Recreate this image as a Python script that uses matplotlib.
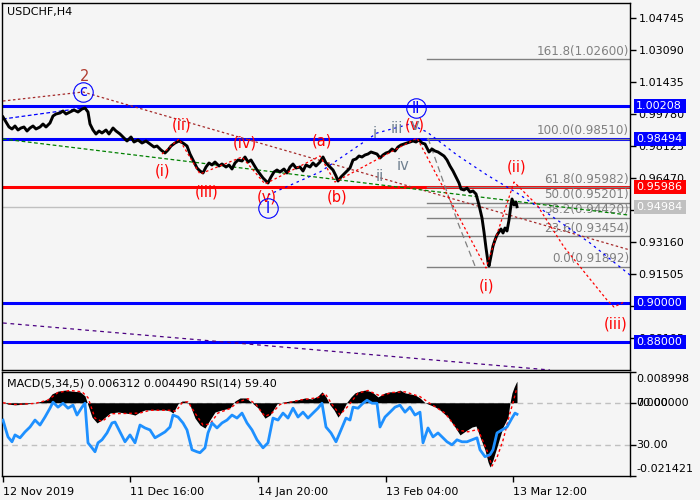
import matplotlib
matplotlib.use("Agg")
import matplotlib.pyplot as plt
from matplotlib.patches import Rectangle
from matplotlib.transforms import blended_transform_factory

plt.rcParams['font.family'] = ['DejaVu Sans']

BG = '#f5f5f5'

# ---------------- price data (H4 closes, bar index) ----------------
bar_idx = [0, 3, 6, 9, 12, 15, 18, 21, 24, 27, 30, 33, 37, 40, 43, 47, 50, 53, 57, 60,
           63, 67, 71, 75, 79, 82, 85, 87, 90, 93, 96, 99, 103, 106, 110, 113, 117, 121, 124, 128,
           131, 135, 139, 143, 147, 151, 154, 158, 162, 165, 168, 172, 176, 180, 184, 187, 191, 194, 197, 200,
           203, 206, 209, 212, 216, 219, 223, 226, 229, 232, 235, 239, 242, 245, 248, 251, 254, 257, 260, 263,
           265, 268, 271, 274, 277, 281, 284, 287, 290, 293, 297, 300, 303, 307, 310, 313, 317, 320, 323, 327,
           330, 333, 335, 338, 341, 344, 347, 350, 353, 356, 359, 362, 365, 368, 371, 374, 377, 380, 383, 386,
           389, 392, 395, 398, 401, 404, 407, 410, 413, 416, 419, 422, 424, 426, 429, 432, 435, 438, 441, 444,
           447, 450, 453, 456, 458, 461, 464, 467, 470, 473, 476, 479, 481, 483, 485, 486, 488, 490, 492, 494,
           496, 498, 500, 502, 504, 506, 508, 509, 511, 513, 514]
close = [0.99625, 0.99367, 0.99108, 0.99005, 0.99160, 0.98953, 0.99056, 0.99108, 0.98901, 0.99056,
         0.99160, 0.99005, 0.99108, 0.99263, 0.99108, 0.99315, 0.99677, 0.99780, 0.99832, 0.99935,
         0.99780, 0.99883, 0.99987, 0.99883, 1.00038, 1.00090, 0.99883, 0.99263, 0.98953, 0.98746,
         0.98901, 0.98798, 0.98953, 0.98746, 0.99056, 0.98901, 0.98746, 0.98539, 0.98384, 0.98591,
         0.98332, 0.98436, 0.98280, 0.98384, 0.98229, 0.98074, 0.98125, 0.97918, 0.97763, 0.97918,
         0.98125, 0.98280, 0.98384, 0.98280, 0.98125, 0.97712, 0.97298, 0.96987, 0.96832, 0.96729,
         0.97039, 0.97246, 0.97143, 0.97298, 0.97091, 0.97194, 0.97039, 0.97143, 0.96936, 0.97246,
         0.97401, 0.97349, 0.97556, 0.97298, 0.97401, 0.97143, 0.96884, 0.96677, 0.96470, 0.96315,
         0.96212, 0.96522, 0.96780, 0.96884, 0.96780, 0.96936, 0.96729, 0.97039, 0.97194, 0.96987,
         0.97039, 0.96832, 0.97143, 0.97039, 0.97246, 0.97091, 0.97298, 0.97556, 0.97246, 0.97039,
         0.96884, 0.96574, 0.96315, 0.96522, 0.96677, 0.96832, 0.96987, 0.97401, 0.97453, 0.97608,
         0.97556, 0.97660, 0.97712, 0.97815, 0.97763, 0.97712, 0.97505, 0.97660, 0.97763, 0.97815,
         0.97970, 0.97867, 0.98074, 0.98177, 0.98229, 0.98280, 0.98332, 0.98384, 0.98332, 0.98436,
         0.98280, 0.98229, 0.98022, 0.97815, 0.97970, 0.97867, 0.97815, 0.97712, 0.97608, 0.97401,
         0.97091, 0.96832, 0.96522, 0.96212, 0.95901, 0.95850, 0.95953, 0.95746, 0.95798, 0.95643,
         0.95074, 0.94401, 0.93677, 0.92850, 0.92125, 0.91919, 0.92436, 0.92953, 0.93263, 0.93522,
         0.93677, 0.93832, 0.93625, 0.93884, 0.93729, 0.94298, 0.95074, 0.95384, 0.95074, 0.95229,
         0.94984]

# ---------------- horizontal levels ----------------
blue_levels = [1.00208, 0.98494, 0.90000, 0.88000]
red_level = 0.95986
last_price = 0.94984

price_ticks = [1.04745, 1.03090, 1.01435, 0.99780, 0.98125, 0.96470,
               0.94815, 0.93160, 0.91505, 0.89850, 0.88195]

# Fibonacci retracement / extension
fib_pct = ['161.8', '100.0', '61.8', '50.0', '38.2', '23.6', '0.0']
fib_val = [1.02600, 0.98510, 0.95982, 0.95201, 0.94420, 0.93454, 0.91892]
fib_start = 424

# ---------------- wave lines ----------------
brown_x = [0, 80, 627]
brown_y = [1.00452, 1.00918, 0.92746]
green_x = [0, 625]
green_y = [0.98487, 0.94557]
blue1_x = [0, 80]
blue1_y = [0.99521, 1.00090]
blue2_x = [265, 317, 374, 407, 424, 454, 484, 514, 547, 587, 627]
blue2_y = [0.95591, 0.96781, 0.98797, 0.99263, 0.98849, 0.97660, 0.96626,
           0.95695, 0.94557, 0.93109, 0.91453]
red_x = [159, 176, 197, 239, 262, 317, 332, 414, 483, 511, 534, 561, 604, 611, 621]
red_y = [0.97711, 0.98487, 0.96677, 0.97557, 0.96160, 0.97608, 0.96263, 0.98539,
         0.91815, 0.96263, 0.95074, 0.92902, 0.90160, 0.89798, 0.90057]
purple_x = [0, 547]
purple_y = [0.88971, 0.86540]
arc_x = [425, 439, 455, 472]
arc_y = [0.98539, 0.96470, 0.94143, 0.91919]

# wave labels: (text, bar, price, colour)
wave_labels = [
    ('2', 82, 1.01694, '#b03a2e'),
    ('(ii)', 179, 0.99211, 'red'),
    ('(i)', 160, 0.96832, 'red'),
    ('(iii)', 204, 0.95746, 'red'),
    ('(iv)', 242, 0.98280, 'red'),
    ('(v)', 264, 0.95487, 'red'),
    ('(a)', 319, 0.98384, 'red'),
    ('(b)', 334, 0.95487, 'red'),
    ('i', 372, 0.98797, '#708090'),
    ('ii', 377, 0.96573, '#708090'),
    ('iii', 394, 0.99056, '#708090'),
    ('iv', 400, 0.97142, '#708090'),
    ('(v)', 412, 0.99211, 'red'),
    ('v', 412, 0.99211, '#708090'),
    ('(ii)', 514, 0.97039, 'red'),
    ('(i)', 484, 0.90884, 'red'),
    ('(iii)', 613, 0.88919, 'red'),
]
circle_labels = [('c', 80, 1.00918), ('I', 265, 0.94918), ('II', 413, 1.00090)]

# ---------------- indicator data ----------------
macd_idx = [0, 5, 12, 22, 32, 39, 45, 49, 55, 62, 69, 77, 82, 85, 89, 94, 99, 107, 115, 122,
            127, 132, 137, 142, 152, 162, 167, 170, 175, 179, 183, 187, 192, 197, 202, 207, 212, 219, 227, 232,
            237, 243, 249, 255, 262, 267, 274, 280, 287, 294, 302, 309, 315, 319, 323, 327, 331, 335, 340, 344,
            348, 352, 357, 362, 369, 375, 382, 387, 392, 397, 402, 407, 412, 417, 422, 427, 432, 437, 445, 452,
            457, 464, 469, 473, 477, 482, 485, 487, 490, 494, 497, 500, 505, 507, 509, 511, 513, 514]
macd = [0.0002, -0.0004, -0.0006, -0.0004, 0.0000, 0.0005, 0.0011, 0.0026, 0.0034, 0.0037,
        0.0034, 0.0032, 0.0020, -0.0007, -0.0042, -0.0059, -0.0050, -0.0030, -0.0027, -0.0030,
        -0.0032, -0.0036, -0.0027, -0.0021, -0.0021, -0.0021, -0.0024, -0.0030, -0.0003, 0.0005,
        0.0005, -0.0007, -0.0045, -0.0065, -0.0074, -0.0050, -0.0027, -0.0021, -0.0015, 0.0005,
        0.0014, 0.0014, 0.0000, -0.0015, -0.0045, -0.0036, -0.0003, 0.0002, 0.0005, 0.0008,
        0.0014, 0.0011, 0.0020, 0.0032, 0.0017, -0.0006, -0.0021, -0.0042, -0.0021, 0.0002,
        0.0017, 0.0029, 0.0034, 0.0037, 0.0032, 0.0017, 0.0029, 0.0032, 0.0032, 0.0037,
        0.0029, 0.0026, 0.0023, 0.0014, 0.0000, -0.0006, -0.0012, -0.0021, -0.0042, -0.0071,
        -0.0094, -0.0080, -0.0071, -0.0068, -0.0100, -0.0138, -0.0173, -0.0188, -0.0167, -0.0129,
        -0.0100, -0.0071, -0.0042, 0.0000, 0.0029, 0.0045, 0.0058, 0.0063]
signal_idx = [0, 12, 32, 45, 55, 67, 79, 85, 92, 99, 109, 127, 137, 147, 167, 173, 179, 185, 192, 200,
              207, 215, 227, 235, 245, 253, 262, 269, 277, 297, 315, 322, 329, 337, 345, 355, 365, 377, 389, 402,
              417, 427, 442, 455, 465, 475, 484, 489, 494, 500, 507, 510, 514]
signal = [0.0000, -0.0005, -0.0002, 0.0008, 0.0030, 0.0036, 0.0032, 0.0015, -0.0045, -0.0055,
          -0.0032, -0.0031, -0.0030, -0.0022, -0.0022, -0.0025, 0.0000, 0.0003, -0.0030, -0.0065,
          -0.0062, -0.0030, -0.0017, 0.0002, 0.0012, -0.0005, -0.0040, -0.0030, -0.0005, 0.0008,
          0.0015, 0.0028, -0.0005, -0.0035, -0.0010, 0.0028, 0.0036, 0.0020, 0.0030, 0.0032,
          0.0018, -0.0002, -0.0030, -0.0080, -0.0085, -0.0078, -0.0140, -0.0185, -0.0160, -0.0110,
          -0.0030, 0.0000, 0.0045]

rsi_idx = [0, 2, 5, 9, 12, 17, 22, 27, 32, 37, 42, 47, 50, 55, 60, 65, 70, 74, 79, 82,
           85, 89, 92, 95, 99, 104, 109, 112, 117, 122, 127, 132, 137, 142, 147, 152, 157, 162, 167, 170,
           175, 180, 184, 189, 194, 197, 202, 205, 209, 214, 219, 224, 229, 234, 239, 244, 249, 254, 260, 265,
           270, 275, 280, 285, 290, 295, 300, 305, 310, 315, 319, 323, 328, 333, 338, 343, 347, 350, 355, 360,
           364, 369, 374, 377, 382, 387, 392, 397, 402, 407, 412, 417, 420, 425, 430, 435, 440, 444, 449, 454,
           459, 464, 469, 474, 477, 482, 487, 490, 494, 499, 504, 509, 512, 514]
rsi = [53.8, 47.1, 37.6, 32.9, 39.5, 36.7, 42.4, 47.1, 53.8, 49.0,
       56.7, 65.2, 71.0, 66.2, 70.0, 65.2, 68.1, 58.6, 66.2, 70.0,
       31.9, 27.1, 23.3, 31.9, 34.8, 41.4, 51.0, 51.9, 42.4, 32.9,
       39.5, 31.9, 49.0, 46.2, 44.3, 36.7, 39.5, 42.4, 47.1, 58.6,
       56.7, 51.0, 44.3, 25.2, 23.3, 22.4, 27.1, 41.4, 51.0, 46.2,
       51.0, 53.8, 58.6, 55.7, 60.5, 51.0, 44.3, 34.8, 27.1, 31.9,
       55.7, 53.8, 60.5, 55.7, 65.2, 56.7, 61.4, 55.7, 60.5, 65.2,
       70.0, 47.1, 41.4, 32.9, 44.3, 55.7, 53.8, 66.2, 65.2, 70.0,
       72.9, 70.0, 70.0, 47.1, 56.7, 61.4, 66.2, 68.1, 61.4, 66.2,
       58.6, 61.4, 31.9, 46.2, 37.6, 41.4, 36.7, 32.9, 30.0, 34.8,
       32.9, 32.9, 34.8, 36.7, 25.2, 18.6, 20.5, 25.2, 41.4, 44.3,
       47.1, 55.7, 60.5, 59.4]

macd_top, macd_bottom = 0.008998, -0.021421
date_ticks = [0, 127, 255, 383, 510]
date_labels = ['12 Nov 2019', '11 Dec 16:00', '14 Jan 20:00', '13 Feb 04:00', '13 Mar 12:00']

# ---------------- figure ----------------
fig = plt.figure(figsize=(7, 5), dpi=100, facecolor=BG)
ax = fig.add_axes([2 / 700, 130 / 500, 628 / 700, 367 / 500], facecolor=BG)
ax.set_xlim(-1, 627)
ax.set_ylim(0.86540, 1.05521)

for lv in blue_levels:
    ax.axhline(lv, color='#0000ff', lw=2.2, zorder=2)
ax.axhline(red_level, color='#ff0000', lw=2.2, zorder=2)
ax.axhline(last_price, color='#c0c0c0', lw=1, zorder=2)

for pct, val in zip(fib_pct, fib_val):
    ax.plot([fib_start, 627], [val, val], color='#808080', lw=1, zorder=2)
    ax.text(626, val + 0.0006, f'{pct}({val:.5f})', color='#808080', fontsize=8.6,
            ha='right', va='bottom', zorder=3)
ax.plot(arc_x, arc_y, color='#808080', lw=0.9, ls=(0, (5, 3)), zorder=2)

ax.plot(brown_x, brown_y, color='#a52a2a', lw=0.9, ls=(0, (2, 2)), zorder=3)
ax.plot(green_x, green_y, color='#008000', lw=0.9, ls=(0, (3, 2)), zorder=3)
ax.plot(blue1_x, blue1_y, color='#0000ff', lw=0.9, ls=(0, (3, 2)), zorder=3)
ax.plot(blue2_x, blue2_y, color='#0000ff', lw=0.9, ls=(0, (2, 3)), zorder=3)
ax.plot(purple_x, purple_y, color='#4b0082', lw=0.9, ls=(0, (3, 3)), zorder=3)

ax.plot(bar_idx, close, color='black', lw=2.1, zorder=4)
ax.plot(red_x, red_y, color='#ff0000', lw=0.9, ls=(0, (2, 2)), zorder=5)

for txt, bx, py, col in wave_labels:
    ax.text(bx, py, txt, color=col, fontsize=10.5, ha='center', va='center', zorder=6)
for txt, bx, py in circle_labels:
    ax.plot(bx, py, 'o', ms=14, mfc='none', mec='#0000ff', mew=0.8, zorder=6)
    ax.text(bx, py, txt, color='#0000ff', fontsize=10.5, ha='center', va='center', zorder=6)

ax.text(4, 1.05521 - 0.0045, 'USDCHF,H4', fontsize=8, ha='left', va='center', color='black')

ax.yaxis.tick_right()
ax.set_yticks(price_ticks)
ax.set_yticklabels([f'{t:.5f}' for t in price_ticks])
ax.tick_params(axis='y', length=4, width=1, pad=2, labelsize=8, colors='black')
ax.set_xticks([])
for s in ax.spines.values():
    s.set_color('black')
    s.set_linewidth(1)

# price tags on the right scale
tr = blended_transform_factory(ax.transAxes, ax.transData)
tags = [(lv, '#0000ff', 'white') for lv in blue_levels] + \
       [(red_level, '#ff0000', 'white'), (last_price, '#c0c0c0', 'white')]
box_h = 14 * 0.000517188
for lv, fc, tc in tags:
    ax.add_patch(Rectangle((1 + 4 / 628, lv - box_h / 2), 52 / 628, box_h, transform=tr,
                           facecolor=fc, edgecolor='none', clip_on=False, zorder=10))
    ax.text(1 + 6 / 628, lv, f'{lv:.5f}', transform=tr, color=tc, fontsize=8,
            ha='left', va='center', clip_on=False, zorder=11)

# ---------------- indicator panel ----------------
sub = fig.add_axes([2 / 700, 24 / 500, 628 / 700, 104 / 500], facecolor=BG)
sub.set_xlim(-1, 627)
sub.set_ylim(macd_bottom, macd_top)
rsi_level_30 = macd_bottom + 0.3 * (macd_top - macd_bottom)
sub.axhline(0, color='#c0c0c0', lw=1, ls=(0, (4, 3)), zorder=1)
sub.axhline(rsi_level_30, color='#c0c0c0', lw=1, ls=(0, (4, 3)), zorder=1)
sub.fill_between(macd_idx, 0, macd, color='black', lw=0, zorder=2)
sub.plot(signal_idx, signal, color='#ff0000', lw=1, ls=(0, (2, 2)), zorder=3)

rax = sub.twinx()
rax.set_ylim(0, 100)
rax.plot(rsi_idx, rsi, color='#1e90ff', lw=2, zorder=4)
rax.set_yticks([])
for s in rax.spines.values():
    s.set_visible(False)

sub.yaxis.tick_right()
sub.set_yticks([macd_top, 0, rsi_level_30, macd_bottom])
sub.set_yticklabels([])
sub.tick_params(axis='y', length=4, width=1)
sub.set_xticks(date_ticks)
sub.set_xticklabels(date_labels, ha='left', fontsize=8)
sub.tick_params(axis='x', length=4, width=1, pad=4)
for s in sub.spines.values():
    s.set_color('black')
    s.set_linewidth(1)

str_ = blended_transform_factory(sub.transAxes, sub.transData)
span = macd_top - macd_bottom
px = span / 104
for txt, val in [('0.008998', macd_top - 7 * px), ('0.000000', 0.0), ('70.00', 0.0),
                 ('30.00', rsi_level_30), ('-0.021421', macd_bottom + 7 * px)]:
    sub.text(1 + 6 / 628, val, txt, transform=str_, fontsize=8, ha='left', va='center',
             clip_on=False)

sub.text(4, macd_top - 12 * px, 'MACD(5,34,5) 0.006312 0.004490 RSI(14) 59.40',
         fontsize=8, ha='left', va='center', zorder=6)

fig.savefig('out.png', dpi=100, facecolor=BG)
